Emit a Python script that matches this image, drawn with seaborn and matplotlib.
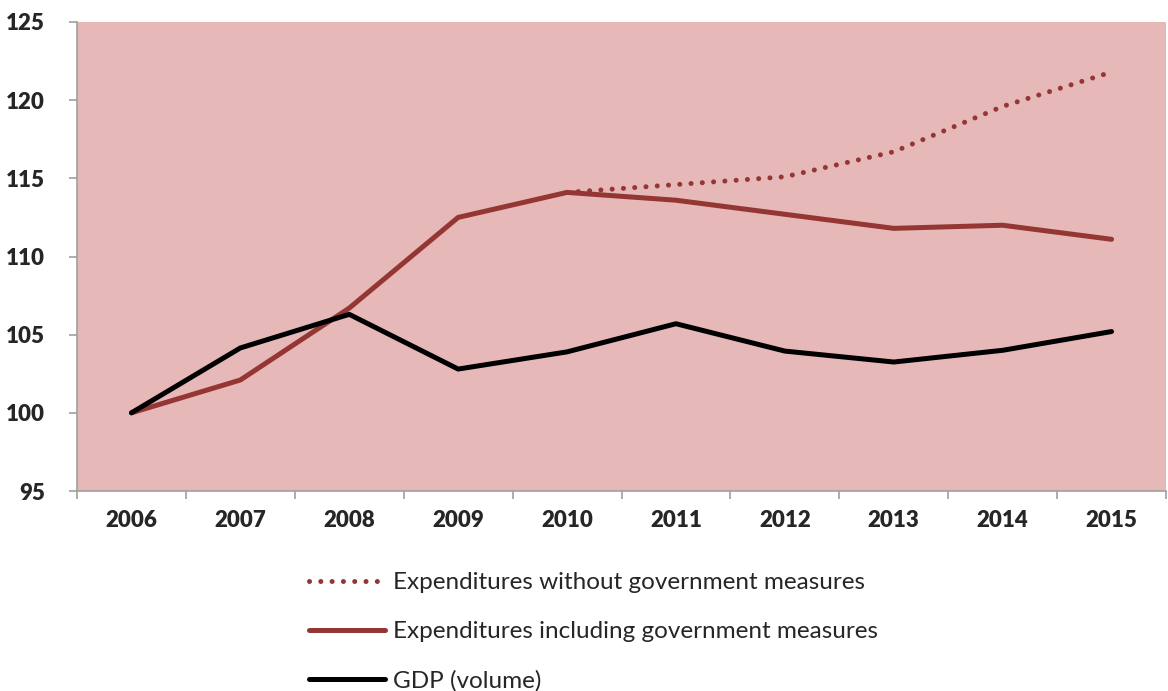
import matplotlib
matplotlib.use("Agg")
import matplotlib.pyplot as plt
import seaborn as sns
import numpy as np
from matplotlib.lines import Line2D

years = ["2006", "2007", "2008", "2009", "2010", "2011", "2012", "2013", "2014", "2015"]
exp_without = [np.nan, np.nan, np.nan, np.nan, 114.1, 114.6, 115.1, 116.7, 119.6, 121.8]
exp_including = [100.0, 102.1, 106.7, 112.5, 114.1, 113.6, 112.7, 111.8, 112.0, 111.1]
gdp = [100.0, 104.15, 106.3, 102.8, 103.9, 105.7, 103.95, 103.25, 104.0, 105.2]

sns.set_style("white")
plt.rcParams['font.family'] = ['Lato', 'DejaVu Sans']

red = "#943634"
bg = "#E6B8B7"
grey = "#A0A0A0"

fig = plt.figure(figsize=(11.68, 6.91), dpi=100)
ax = fig.add_axes([77/1168, 1-491/691, (1166-77)/1168, (491-22)/691])
ax.set_facecolor(bg)

x = np.arange(len(years))
sns.lineplot(x=x, y=exp_including, ax=ax, color=red, lw=3.6, solid_capstyle="round", solid_joinstyle="round")
sns.lineplot(x=x, y=gdp, ax=ax, color="black", lw=3.6, solid_capstyle="round", solid_joinstyle="round")
ax.plot(x, exp_without, color=red, lw=3.6, linestyle=(0, (0.01, 2.25)), dash_capstyle="round")

ax.set_xlim(-0.5, len(years) - 0.5)
ax.set_ylim(95, 125)
ax.set_yticks(np.arange(95, 126, 5))
ax.set_xticks(np.arange(-0.5, len(years), 1.0))
ax.set_xticklabels([])
ax.set_xticks(x, minor=True)
ax.set_xticklabels(years, minor=True)
ax.tick_params(axis="x", which="minor", length=0, pad=14)
ax.tick_params(axis="x", which="major", length=6, width=1.2, color=grey, direction="out")
ax.tick_params(axis="y", length=6, width=1.2, color=grey, direction="out", pad=17)
ax.tick_params(bottom=True, left=True, which="both")
ax.tick_params(axis="x", which="minor", bottom=False)
for lab in ax.get_xticklabels(minor=True) + ax.get_yticklabels():
    lab.set_fontweight("heavy")
    lab.set_fontsize(16)
for s in ["top", "right"]:
    ax.spines[s].set_visible(False)
for s in ["left", "bottom"]:
    ax.spines[s].set_color(grey)
    ax.spines[s].set_linewidth(1.2)

handles = [
    Line2D([], [], color=red, lw=3.6, linestyle=(0, (0.01, 2.25)), dash_capstyle="round"),
    Line2D([], [], color=red, lw=3.6, solid_capstyle="round"),
    Line2D([], [], color="black", lw=3.6, solid_capstyle="round"),
]
labels = ["Expenditures without government measures",
          "Expenditures including government measures",
          "GDP (volume)"]
fig.legend(handles, labels, loc="upper left", bbox_to_anchor=(302/1168, 1-565/691),
           frameon=False, fontsize=17.5, handlelength=3.1, handletextpad=0.33,
           labelspacing=1.14, borderaxespad=0, borderpad=0.3)

fig.savefig("out.png", dpi=100)
